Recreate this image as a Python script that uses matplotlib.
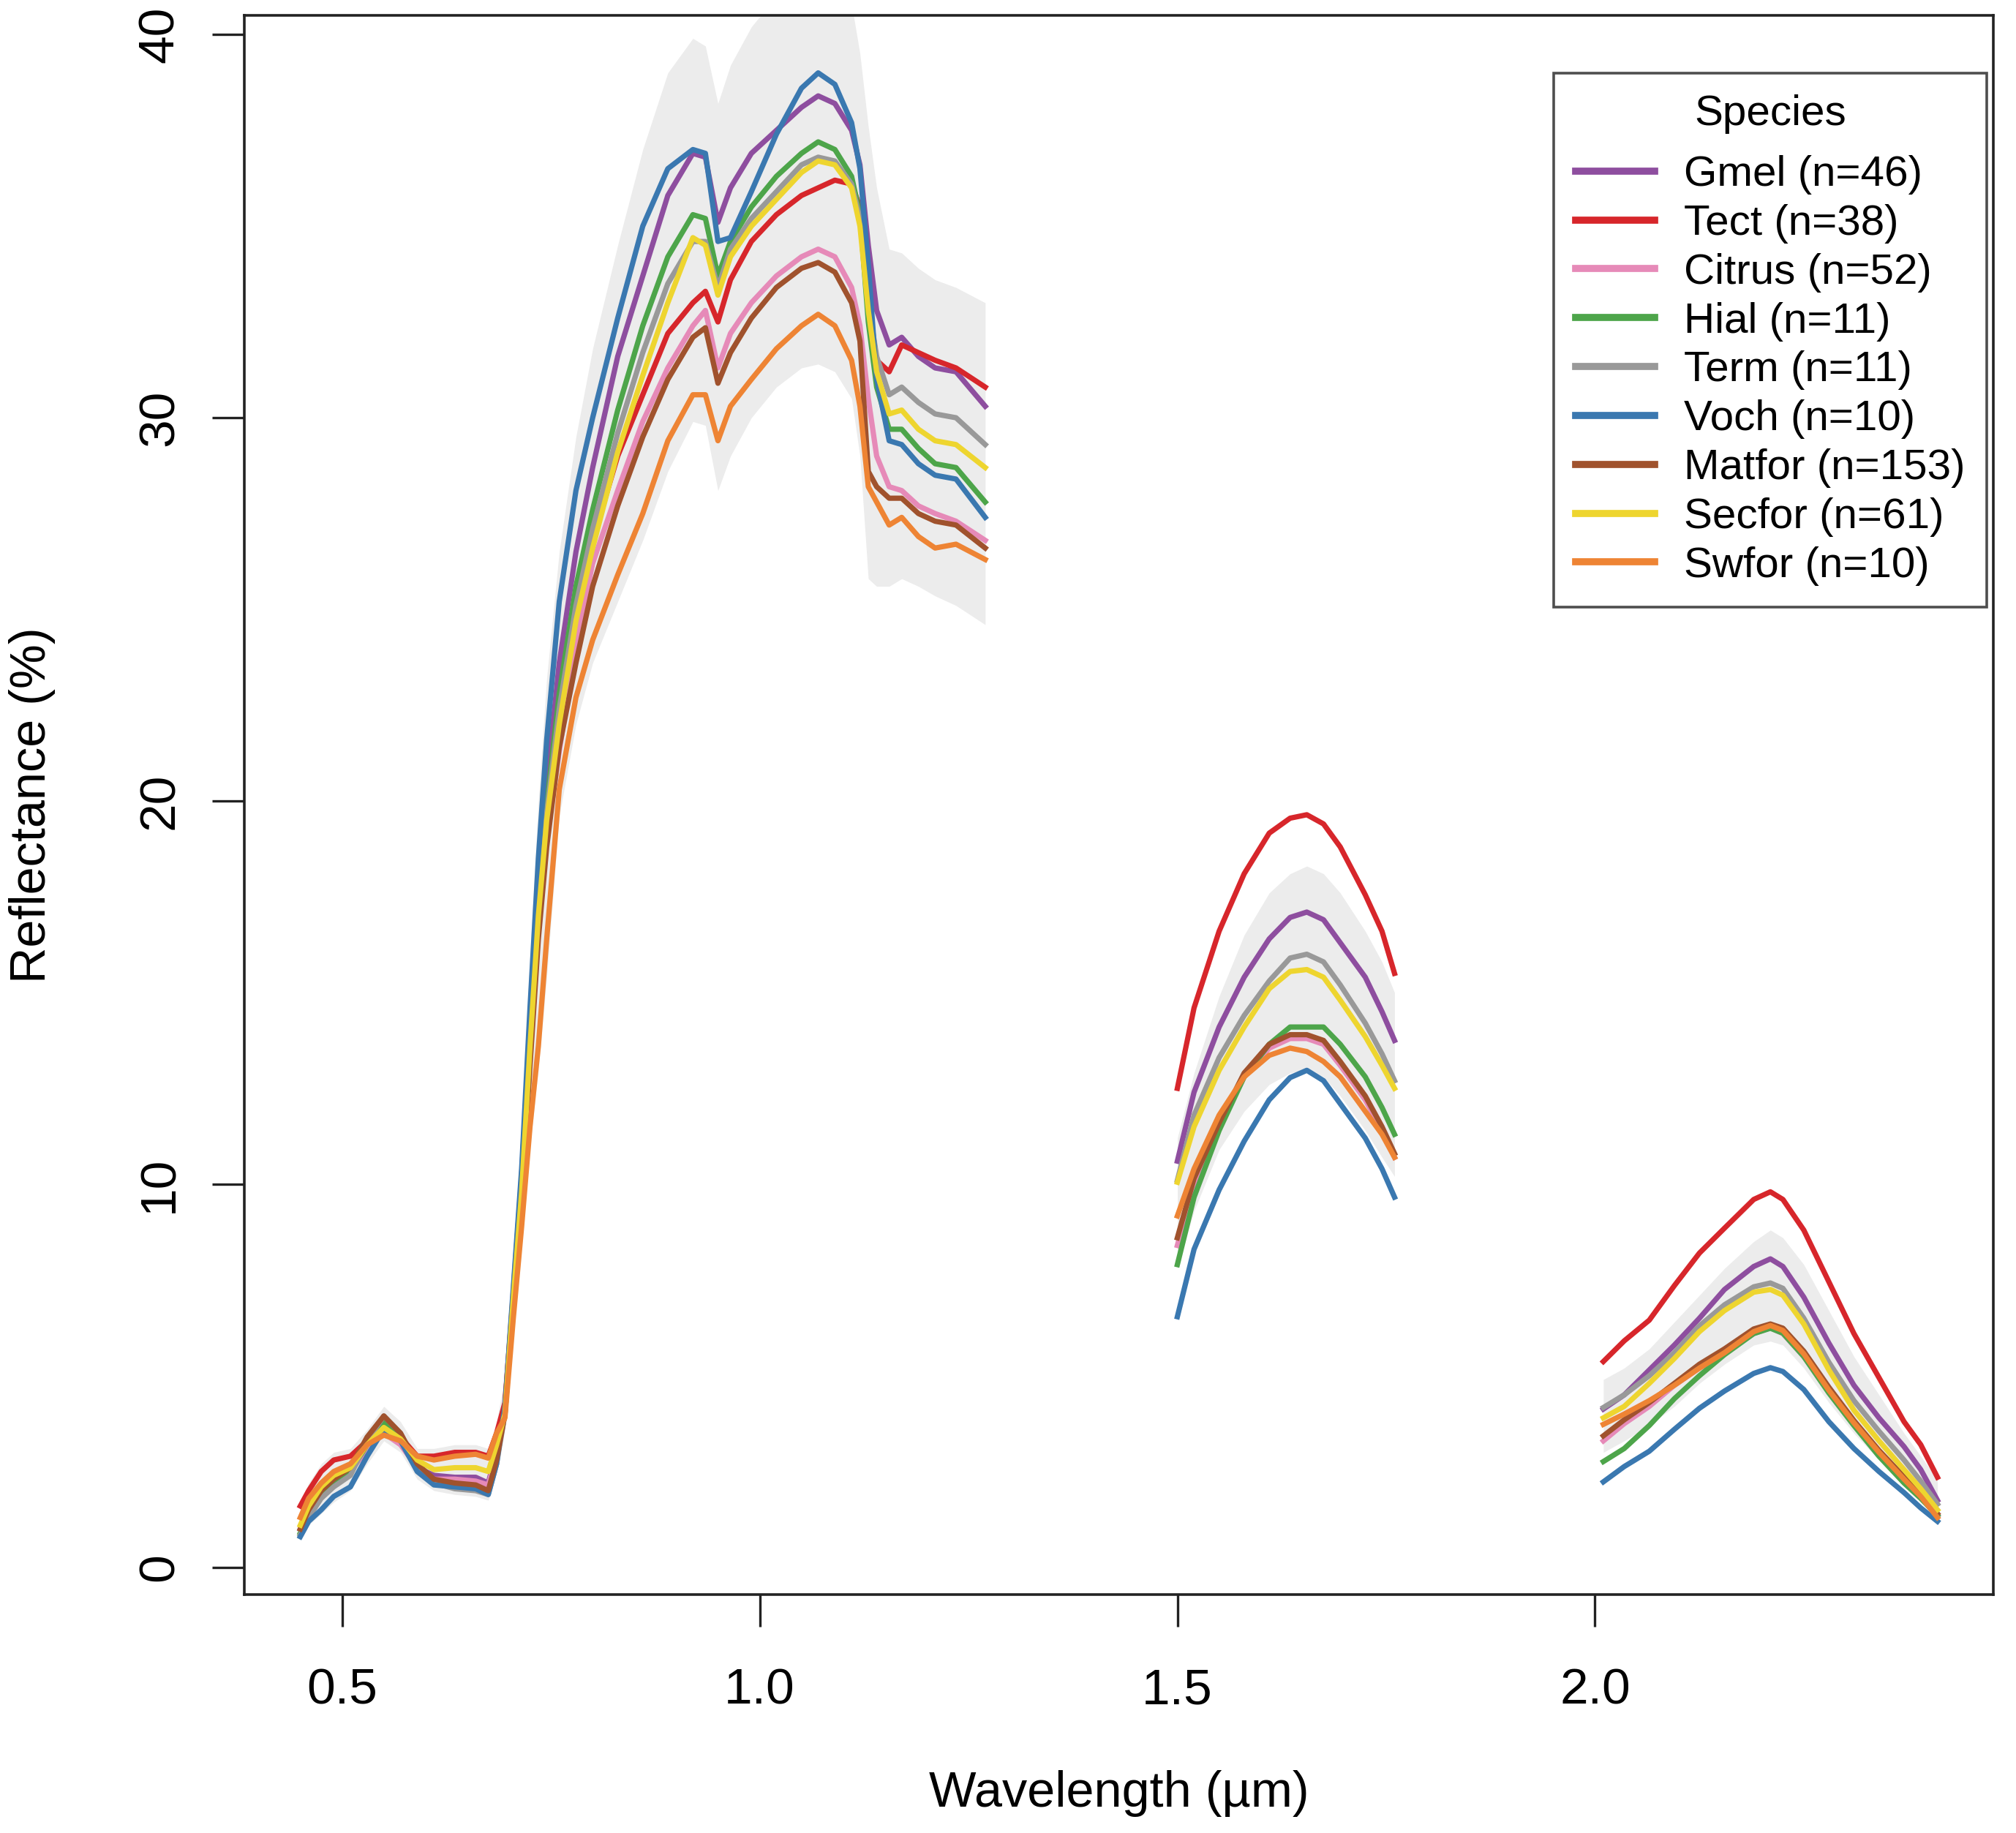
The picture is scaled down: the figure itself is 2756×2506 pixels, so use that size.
import numpy as np
import matplotlib.pyplot as plt

plt.rcParams['font.family'] = ['Liberation Sans', 'DejaVu Sans']

SPECIES = ['Gmel', 'Tect', 'Citrus', 'Hial', 'Term', 'Voch', 'Matfor', 'Secfor', 'Swfor']
COUNTS = [46, 38, 52, 11, 11, 10, 153, 61, 10]
COLORS = ['#8E4E9F', '#D7262B', '#E68AB8', '#4DA54A', '#999999',
          '#3A78B0', '#A0522D', '#EED52F', '#EE8434']

# wavelengths (um) of the three segments (water absorption bands removed)
WL_VNIR = [0.45, 0.46, 0.475, 0.49, 0.51, 0.53, 0.55, 0.57, 0.59, 0.61, 0.635, 0.66, 0.675, 0.685,
           0.695, 0.705, 0.715, 0.725, 0.735, 0.745, 0.76, 0.78, 0.80, 0.83, 0.86, 0.89,
           0.92, 0.935, 0.95, 0.965, 0.99, 1.02, 1.05, 1.07, 1.09, 1.11, 1.12,
           1.13, 1.14, 1.155, 1.17, 1.19, 1.21, 1.235, 1.27]
WL_SWIR1 = [1.50, 1.52, 1.55, 1.58, 1.61, 1.635, 1.655, 1.675, 1.695, 1.725, 1.745, 1.76]
WL_SWIR2 = [2.01, 2.035, 2.065, 2.095, 2.125, 2.155, 2.19, 2.21, 2.225, 2.25, 2.28, 2.31,
            2.34, 2.37, 2.39, 2.41]

# mean reflectance (%) per species
gmel_vnir = [1.0, 1.5, 2.0, 2.3, 2.5, 3.1, 3.6, 3.3, 2.6, 2.4, 2.35, 2.35, 2.2, 3.0,
             4.2, 7.2, 10.2, 14.2, 17.9, 20.4, 23.6, 26.5, 28.7, 31.6, 33.7, 35.8,
             36.9, 36.8, 35.1, 36.0, 36.9, 37.5, 38.1, 38.4, 38.2, 37.5, 36.6,
             34.5, 32.8, 31.9, 32.1, 31.6, 31.3, 31.2, 30.3]
tect_vnir = [1.6, 2.0, 2.5, 2.8, 2.9, 3.3, 3.6, 3.4, 2.9, 2.9, 3.0, 3.0, 2.9, 3.5,
             4.3, 7.1, 9.8, 13.5, 16.9, 19.3, 21.8, 24.8, 26.8, 29.0, 30.6, 32.2,
             33.0, 33.3, 32.5, 33.6, 34.6, 35.3, 35.8, 36.0, 36.2, 36.1, 35.5,
             33.0, 31.5, 31.2, 31.9, 31.7, 31.5, 31.3, 30.8]
citrus_vnir = [1.0, 1.5, 2.0, 2.3, 2.5, 3.1, 3.5, 3.2, 2.6, 2.3, 2.3, 2.25, 2.15, 2.9,
               4.0, 6.9, 9.7, 13.3, 16.6, 19.0, 21.3, 24.1, 26.2, 28.1, 29.9, 31.3,
               32.4, 32.8, 31.3, 32.2, 33.0, 33.7, 34.2, 34.4, 34.2, 33.4, 32.4,
               30.5, 29.0, 28.2, 28.1, 27.7, 27.5, 27.3, 26.8]
hial_vnir = [0.9, 1.4, 1.9, 2.2, 2.5, 3.2, 3.8, 3.4, 2.6, 2.2, 2.1, 2.1, 1.95, 2.8,
             4.1, 7.1, 10.0, 13.9, 17.4, 19.9, 22.8, 25.6, 27.6, 30.2, 32.4, 34.2,
             35.3, 35.2, 33.7, 34.6, 35.5, 36.3, 36.9, 37.2, 37.0, 36.3, 35.3,
             32.5, 30.8, 29.7, 29.7, 29.2, 28.8, 28.7, 27.8]
term_vnir = [0.85, 1.3, 1.8, 2.1, 2.4, 3.3, 3.95, 3.5, 2.6, 2.2, 2.05, 2.0, 1.9, 2.7,
             4.0, 7.0, 9.9, 13.7, 17.2, 19.7, 22.4, 25.1, 27.1, 29.6, 31.7, 33.5,
             34.6, 34.6, 33.4, 34.4, 35.2, 35.9, 36.6, 36.8, 36.7, 36.1, 35.2,
             33.0, 31.6, 30.6, 30.8, 30.4, 30.1, 30.0, 29.3]
voch_vnir = [0.8, 1.2, 1.5, 1.85, 2.1, 2.9, 3.6, 3.3, 2.5, 2.15, 2.1, 2.05, 1.9, 2.7,
             4.2, 7.3, 10.4, 14.6, 18.5, 21.6, 25.2, 28.1, 30.0, 32.6, 35.0, 36.5,
             37.0, 36.9, 34.6, 34.7, 35.9, 37.4, 38.6, 39.0, 38.7, 37.7, 36.5,
             34.0, 31.0, 29.4, 29.3, 28.8, 28.5, 28.4, 27.4]
matfor_vnir = [1.0, 1.5, 2.0, 2.3, 2.6, 3.4, 3.95, 3.5, 2.7, 2.3, 2.2, 2.15, 2.0, 2.8,
               4.0, 6.9, 9.6, 13.1, 16.4, 18.8, 21.4, 23.6, 25.6, 27.7, 29.5, 31.0,
               32.1, 32.35, 30.9, 31.7, 32.6, 33.4, 33.9, 34.05, 33.8, 33.0, 32.0,
               28.6, 28.2, 27.9, 27.9, 27.5, 27.3, 27.2, 26.6]
secfor_vnir = [1.1, 1.6, 2.1, 2.4, 2.6, 3.2, 3.65, 3.35, 2.8, 2.55, 2.6, 2.6, 2.5, 3.2,
               4.0, 7.0, 9.8, 13.6, 17.0, 19.5, 22.0, 24.7, 26.6, 29.1, 31.1, 33.0,
               34.7, 34.5, 33.2, 34.2, 35.0, 35.7, 36.4, 36.7, 36.6, 36.0, 35.0,
               32.8, 31.2, 30.1, 30.2, 29.7, 29.4, 29.3, 28.7]
swfor_vnir = [1.3, 1.8, 2.2, 2.5, 2.7, 3.2, 3.45, 3.3, 2.9, 2.8, 2.9, 2.95, 2.85, 3.5,
              3.9, 6.5, 8.9, 11.5, 13.6, 16.4, 20.3, 22.7, 24.2, 25.9, 27.5, 29.4,
              30.6, 30.6, 29.4, 30.3, 31.0, 31.8, 32.4, 32.7, 32.4, 31.5, 30.3,
              28.2, 27.8, 27.2, 27.4, 26.9, 26.6, 26.7, 26.3]

gmel_swir1 = [10.6, 12.4, 14.1, 15.4, 16.4, 16.96, 17.1, 16.9, 16.3, 15.4, 14.5, 13.75]
tect_swir1 = [12.5, 14.6, 16.6, 18.1, 19.16, 19.55, 19.64, 19.4, 18.8, 17.55, 16.6, 15.5]
citrus_swir1 = [8.4, 10.0, 11.5, 12.8, 13.55, 13.8, 13.8, 13.65, 13.1, 12.2, 11.4, 10.7]
hial_swir1 = [7.9, 9.66, 11.4, 12.8, 13.65, 14.1, 14.1, 14.1, 13.65, 12.8, 12.0, 11.3]
term_swir1 = [10.1, 11.8, 13.3, 14.4, 15.3, 15.9, 16.0, 15.8, 15.2, 14.2, 13.4, 12.7]
voch_swir1 = [6.54, 8.3, 9.85, 11.12, 12.2, 12.78, 12.97, 12.7, 12.1, 11.2, 10.4, 9.66]
matfor_swir1 = [8.6, 10.15, 11.6, 12.9, 13.65, 13.9, 13.9, 13.75, 13.2, 12.3, 11.5, 10.8]
secfor_swir1 = [10.05, 11.5, 12.97, 14.1, 15.1, 15.55, 15.6, 15.4, 14.8, 13.85, 13.1, 12.5]
swfor_swir1 = [9.17, 10.4, 11.8, 12.8, 13.36, 13.55, 13.46, 13.2, 12.8, 11.9, 11.3, 10.7]

gmel_swir2 = [4.13, 4.5, 5.15, 5.8, 6.5, 7.25, 7.85, 8.05, 7.85, 7.05, 5.85, 4.75, 3.9, 3.15, 2.55, 1.75]
tect_swir2 = [5.37, 5.91, 6.45, 7.35, 8.2, 8.85, 9.6, 9.8, 9.6, 8.8, 7.45, 6.1, 4.95, 3.8, 3.2, 2.35]
citrus_swir2 = [3.3, 3.75, 4.2, 4.75, 5.2, 5.6, 6.1, 6.25, 6.1, 5.5, 4.6, 3.75, 2.98, 2.3, 1.85, 1.35]
hial_swir2 = [2.76, 3.1, 3.7, 4.4, 5.0, 5.55, 6.1, 6.24, 6.11, 5.5, 4.55, 3.7, 2.9, 2.2, 1.8, 1.35]
term_swir2 = [4.17, 4.5, 5.0, 5.6, 6.3, 6.85, 7.32, 7.42, 7.28, 6.5, 5.35, 4.35, 3.55, 2.8, 2.25, 1.65]
voch_swir2 = [2.23, 2.63, 3.03, 3.6, 4.15, 4.6, 5.06, 5.21, 5.11, 4.64, 3.8, 3.1, 2.5, 1.95, 1.55, 1.2]
matfor_swir2 = [3.43, 3.85, 4.3, 4.8, 5.3, 5.7, 6.22, 6.35, 6.24, 5.64, 4.7, 3.83, 3.05, 2.36, 1.9, 1.4]
secfor_swir2 = [3.9, 4.2, 4.8, 5.45, 6.15, 6.7, 7.18, 7.25, 7.1, 6.35, 5.15, 4.1, 3.3, 2.55, 2.05, 1.5]
swfor_swir2 = [3.73, 4.0, 4.35, 4.75, 5.2, 5.6, 6.15, 6.31, 6.18, 5.57, 4.62, 3.77, 3.0, 2.3, 1.85, 1.3]

# spread of all samples (grey band)
band_lo_vnir = [0.7, 1.1, 1.4, 1.7, 2.0, 2.7, 3.3, 3.0, 2.3, 2.0, 1.9, 1.85, 1.75, 2.5,
                3.6, 6.0, 8.4, 11.0, 13.0, 15.4, 19.6, 22.0, 23.6, 25.2, 26.8, 28.6,
                29.9, 29.8, 28.1, 29.0, 30.0, 30.8, 31.3, 31.4, 31.2, 30.5, 29.0,
                25.8, 25.6, 25.6, 25.8, 25.6, 25.35, 25.1, 24.6]
band_hi_vnir = [1.7, 2.2, 2.7, 3.0, 3.1, 3.6, 4.2, 3.8, 3.1, 3.1, 3.2, 3.2, 3.1, 3.8,
                5.0, 8.2, 11.6, 16.0, 20.0, 23.2, 26.5, 29.5, 31.8, 34.5, 37.0, 39.0,
                39.9, 39.7, 38.2, 39.2, 40.2, 41.0, 41.5, 41.5, 41.3, 40.8, 39.5,
                37.6, 36.0, 34.4, 34.3, 33.9, 33.6, 33.4, 33.0]
band_lo_swir1 = [7.8, 9.3, 10.9, 11.9, 12.6, 12.9, 13.0, 12.8, 12.3, 11.4, 10.7, 10.2]
band_hi_swir1 = [11.2, 12.9, 14.9, 16.5, 17.6, 18.1, 18.3, 18.1, 17.6, 16.6, 15.8, 15.0]
band_lo_swir2 = [3.0, 3.3, 3.7, 4.2, 4.8, 5.3, 5.8, 5.9, 5.8, 5.2, 4.3, 3.5, 2.8, 2.1, 1.7, 1.3]
band_hi_swir2 = [4.9, 5.2, 5.7, 6.4, 7.1, 7.8, 8.5, 8.8, 8.6, 7.9, 6.7, 5.5, 4.5, 3.5, 2.9, 2.3]

segments = [
    (WL_VNIR, band_lo_vnir, band_hi_vnir,
     [gmel_vnir, tect_vnir, citrus_vnir, hial_vnir, term_vnir,
      voch_vnir, matfor_vnir, secfor_vnir, swfor_vnir]),
    (WL_SWIR1, band_lo_swir1, band_hi_swir1,
     [gmel_swir1, tect_swir1, citrus_swir1, hial_swir1, term_swir1,
      voch_swir1, matfor_swir1, secfor_swir1, swfor_swir1]),
    (WL_SWIR2, band_lo_swir2, band_hi_swir2,
     [gmel_swir2, tect_swir2, citrus_swir2, hial_swir2, term_swir2,
      voch_swir2, matfor_swir2, secfor_swir2, swfor_swir2]),
]

fig = plt.figure(figsize=(13.78, 12.53), dpi=200)
ax = fig.add_axes([0.1212, 0.1301, 0.8676, 0.8615])

for wl, lo, hi, curves in segments:
    ax.fill_between(wl, lo, hi, color='#ECECEC', lw=0, zorder=1)

handles = []
for i, name in enumerate(SPECIES):
    for wl, lo, hi, curves in segments:
        line, = ax.plot(wl, curves[i], color=COLORS[i], lw=2.6,
                        solid_joinstyle='round', zorder=2)
    handles.append(line)

ax.set_xlim(0.383, 2.477)
ax.set_ylim(-0.71, 40.5)
ax.set_xticks([0.5, 1.0, 1.5, 2.0])
ax.set_xticklabels(['0.5', '1.0', '1.5', '2.0'])
ax.set_yticks([0, 10, 20, 30, 40])

for side in ax.spines.values():
    side.set_linewidth(1.3)
    side.set_color('#222222')

ax.tick_params(axis='both', direction='out', length=16, width=1.2,
               color='#222222', labelsize=25)
ax.tick_params(axis='x', pad=20)
ax.tick_params(axis='y', pad=14)
for lab in ax.get_yticklabels():
    lab.set_rotation(90)
    lab.set_verticalalignment('center')

ax.set_xlabel('Wavelength (\u00b5m)', fontsize=24.6)
ax.set_ylabel('Reflectance (%)', fontsize=24.6)
ax.xaxis.set_label_coords(0.5, -0.111)
ax.yaxis.set_label_coords(-0.108, 0.5)

labels = [f'{s} (n={n})' for s, n in zip(SPECIES, COUNTS)]
leg = ax.legend(handles, labels, title='Species', loc='upper right',
                bbox_to_anchor=(0.9962, 0.9634), fontsize=21, title_fontsize=21,
                frameon=True, fancybox=False, edgecolor='#222222',
                handlelength=1.85, handletextpad=0.7, labelspacing=0.22,
                borderpad=0.5, borderaxespad=0.0)
leg.get_frame().set_linewidth(1.3)
leg._legend_box.sep = 10.4  # extra gap under the title
for h in leg.legend_handles:
    h.set_linewidth(3.5)

fig.savefig('out.png', dpi=200)
